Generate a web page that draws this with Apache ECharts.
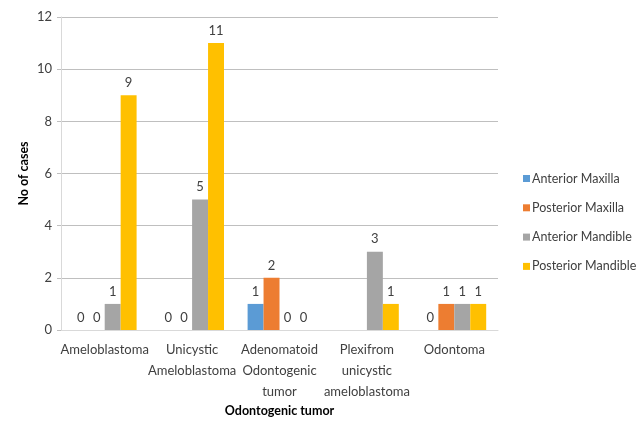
<!DOCTYPE html>
<html><head><meta charset="utf-8">
<script src="https://cdn.jsdelivr.net/npm/echarts@6/dist/echarts.min.js"></script>
<style>html,body{margin:0;padding:0;background:#fff}#c{width:644px;height:421px}</style>
</head><body><div id="c"></div>
<script>
var categories = ["Ameloblastoma", "Unicystic\nAmeloblastoma", "Adenomatoid\nOdontogenic\ntumor", "Plexifrom\nunicystic\nameloblastoma", "Odontoma"];
var anteriorMaxilla = [0, 0, 1, null, 0];
var posteriorMaxilla = [0, 0, 2, null, 1];
var anteriorMandible = [1, 5, 0, 3, 1];
var posteriorMandible = [9, 11, 0, 1, 1];
var seriesNames = ["Anterior Maxilla", "Posterior Maxilla", "Anterior Mandible", "Posterior Mandible"];
var colors = ["#5B9BD5", "#ED7D31", "#A5A5A5", "#FFC000"];
var font = "Lato, 'Open Sans', sans-serif";
var txt = "#404040";
var data = [anteriorMaxilla, posteriorMaxilla, anteriorMandible, posteriorMandible];
var chart = echarts.init(document.getElementById('c'));
chart.setOption({
  animation: false,
  textStyle: {fontFamily: font},
  grid: {left: 61, right: 146, top: 17, bottom: 91, containLabel: false, outerBoundsMode: 'none'},
  legend: {
    orient: 'vertical', left: 518, top: 167, itemWidth: 7, itemHeight: 7, itemGap: 16.3, icon: 'rect',
    textStyle: {fontSize: 12.5, color: txt, fontFamily: font, padding: [0, 0, 0, -3]},
    data: seriesNames
  },
  xAxis: {
    type: 'category', data: categories,
    name: 'Odontogenic tumor', nameLocation: 'middle', nameGap: 74, nameMoveOverlap: false,
    nameTextStyle: {fontWeight: 'bold', fontSize: 12.5, color: '#000', fontFamily: font},
    axisLine: {lineStyle: {color: '#d9d9d9'}},
    axisTick: {length: 5, lineStyle: {color: '#d9d9d9'}},
    axisLabel: {fontSize: 13, color: txt, lineHeight: 21, margin: 9, interval: 0}
  },
  yAxis: {
    type: 'value', min: 0, max: 12, interval: 2,
    name: 'No of cases', nameLocation: 'middle', nameGap: 31, nameRotate: 90, nameMoveOverlap: false,
    nameTextStyle: {fontWeight: 'bold', fontSize: 12.5, color: '#000', fontFamily: font},
    axisLine: {show: true, lineStyle: {color: '#d9d9d9'}},
    axisTick: {show: true, length: 4, lineStyle: {color: '#bfbfbf'}},
    splitLine: {lineStyle: {color: '#bfbfbf'}},
    axisLabel: {fontSize: 13, color: txt, margin: 9}
  },
  series: data.map(function (d, i) {
    return {
      name: seriesNames[i], type: 'bar', data: d,
      itemStyle: {color: colors[i]},
      barGap: '0%', barCategoryGap: '27%',
      label: {show: true, position: 'top', color: txt, fontSize: 13, distance: 6}
    };
  })
});
</script></body></html>
